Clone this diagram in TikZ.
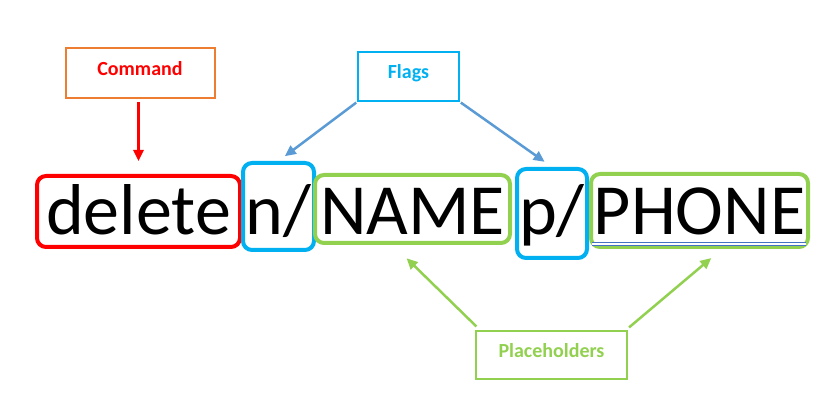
\documentclass[tikz,border=0pt]{standalone}
\usepackage{fontspec}
\setmainfont{Carlito}
\usetikzlibrary{arrows.meta}
\definecolor{cmdorange}{HTML}{ED7D31}
\definecolor{cmdred}{HTML}{FF0000}
\definecolor{flagcyan}{HTML}{00B0F0}
\definecolor{flagblue}{HTML}{5B9BD5}
\definecolor{holdgreen}{HTML}{92D050}
\definecolor{spellblue}{HTML}{4472C4}

\begin{document}
\begin{tikzpicture}[x=1pt, y=-1pt,
    labelbox/.style={draw, line width=2pt, inner sep=0pt, text height=13pt, text depth=8pt,
        font=\fontsize{20}{24}\selectfont\bfseries},
    part/.style={draw, line width=4pt, rounded corners=9pt, inner sep=0pt, anchor=base,
        font=\fontsize{72}{80}\selectfont},
    pointer/.style={-{Triangle[length=11pt,width=10pt]}, line width=2.5pt}]
    \useasboundingbox (0,0) rectangle (831,411);

    % labels
    \node (cmd) at (140,73) [labelbox, cmdorange, text=cmdred, minimum width=149pt, minimum height=50pt] {Command};
    \node (flags) at (408.5,76.5) [labelbox, flagcyan, minimum width=101pt, minimum height=49pt] {Flags};
    \node (holders) at (551.5,355) [labelbox, holdgreen, minimum width=151pt, minimum height=48pt] {Placeholders};

    % the command line
    \node (delete) at (138.5,235) [part, cmdred, text=black, minimum width=203pt, text height=59pt, text depth=12pt] {delete};
    \node (nflag) at (278.5,235) [part, flagcyan, text=black, minimum width=71pt, text height=72pt, text depth=15pt] {n/};
    \node (name) at (412.5,235) [part, holdgreen, text=black, minimum width=195pt, text height=60pt, text depth=8pt] {NAME};
    \node (pflag) at (552,235) [part, flagcyan, text=black, minimum width=70pt, text height=66pt, text depth=23pt] {p/};
    \node (phone) at (699.5,235) [part, holdgreen, text=black, minimum width=217pt, text height=61pt, text depth=12pt] {PHONE};
    \draw [spellblue, line width=0.8pt, double, double distance=2.4pt]
        ([xshift=3pt,yshift=5pt]phone.south west) -- ([xshift=-4pt,yshift=5pt]phone.south east);

    % arrows
    \draw [pointer, cmdred, shorten >=13pt, shorten <=3pt] (delete.north |- cmd.south) -- (delete.north);
    \draw [pointer, flagblue, shorten >=8pt, shorten <=1pt] (flags.south west) -- (nflag.north);
    \draw [pointer, flagblue, shorten >=9pt, shorten <=1pt] (flags.south east) -- (pflag.north);
    \draw [pointer, holdgreen, shorten >=19pt, shorten <=5pt] ([xshift=5pt]holders.north west) -- ([xshift=-19.5pt]name.south);
    \draw [pointer, holdgreen, shorten >=14pt, shorten <=4pt] ([xshift=-2pt]holders.north east) -- ([xshift=22.5pt]phone.south);
\end{tikzpicture}
\end{document}
